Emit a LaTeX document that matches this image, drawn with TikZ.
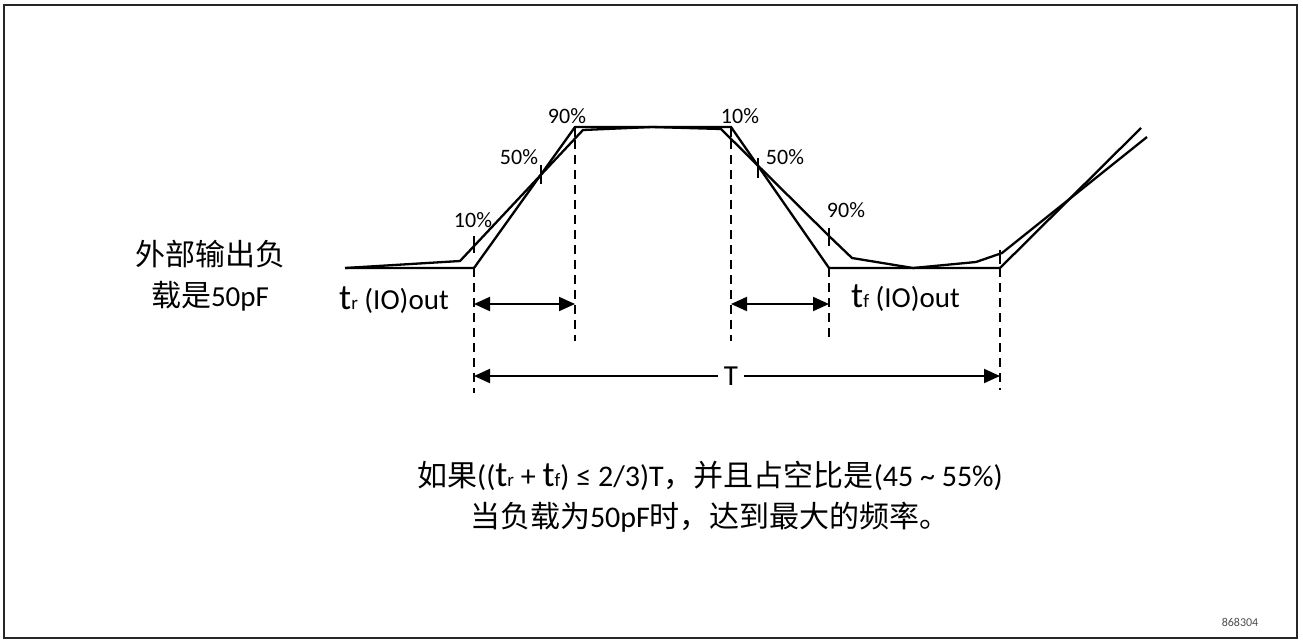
\documentclass[tikz,border=0pt]{standalone}
\usepackage{fontspec}
\setmainfont{Carlito}
\newfontfamily\cjk{Noto Sans CJK SC}
\usetikzlibrary{arrows.meta}
\newcommand{\bigt}[1]{{\fontsize{36}{36}\selectfont t}{\fontsize{19}{20}\selectfont #1}}
\begin{document}
\begin{tikzpicture}[x=1pt,y=-1pt,
  wave/.style={line width=2.3pt, line join=miter},
  guide/.style={line width=2pt, dash pattern=on 9pt off 6pt},
  dimarrow/.style={line width=2pt, {Triangle[length=16pt,width=14pt]}-{Triangle[length=16pt,width=14pt]}},
  tickmark/.style={line width=2pt},
  pct/.style={font=\fontsize{22}{24}\selectfont, inner sep=0pt},
  lbl/.style={font=\fontsize{29}{32}\selectfont, inner sep=0pt},
  cjklbl/.style={font=\cjk\fontsize{30}{41}\selectfont, inner sep=0pt, align=center}]
\useasboundingbox (0,0) rectangle (1303,641);
\draw[line width=1.5pt, black!85] (4,5) rectangle (1297,638);
% ideal waveform
\coordinate (a0) at (345,268);
\coordinate (a1) at (474,268);
\coordinate (a2) at (575,127);
\coordinate (a3) at (731,127);
\coordinate (a4) at (829,268);
\coordinate (a5) at (1000,268);
\coordinate (a6) at (1141,128);
\draw[wave] (a0) -- (a1) -- (a2) -- (a3) -- (a4) -- (a5) -- (a6);
% real waveform
\coordinate (b0) at (345,268);
\coordinate (b1) at (460,261);
\coordinate (b2) at (583,130);
\coordinate (b3) at (652,127);
\coordinate (b4) at (721,129);
\coordinate (b5) at (829,236);
\coordinate (b6) at (852,258);
\coordinate (b7) at (913,268);
\coordinate (b8) at (976,262);
\coordinate (b9) at (1002,253);
\coordinate (b10) at (1147,137);
\draw[wave] (b0) -- (b1) -- (b2) -- (b3) -- (b4) -- (b5) -- (b6) -- (b7) -- (b8) -- (b9) -- (b10);
% ticks
\coordinate (k1a) at (474,236); \coordinate (k1b) at (474,253);
\coordinate (k2a) at (541,165); \coordinate (k2b) at (541,184);
\coordinate (k3a) at (758,158); \coordinate (k3b) at (758,178);
\coordinate (k4a) at (829,228); \coordinate (k4b) at (829,246);
\coordinate (k5a) at (1000,250); \coordinate (k5b) at (1000,264);
\coordinate (k6a) at (575,127); \coordinate (k6b) at (575,137);
\coordinate (k7a) at (731,127); \coordinate (k7b) at (731,137);
\foreach \k in {1,...,7} \draw[tickmark] (k\k a) -- (k\k b);
% dashed guides
\coordinate (g1a) at (474,268); \coordinate (g1b) at (474,393);
\coordinate (g2a) at (575,140); \coordinate (g2b) at (575,341);
\coordinate (g3a) at (731,140); \coordinate (g3b) at (731,341);
\coordinate (g4a) at (829,268); \coordinate (g4b) at (829,341);
\coordinate (g5a) at (1000,268); \coordinate (g5b) at (1000,390);
\foreach \g in {1,...,5} \draw[guide] (g\g a) -- (g\g b);
% dimension arrows
\coordinate (tr1) at (474,304); \coordinate (tr2) at (575,304);
\coordinate (tf1) at (731,304); \coordinate (tf2) at (829,304);
\coordinate (T1) at (474,376); \coordinate (T2) at (1000,376);
\draw[dimarrow] (tr1) -- (tr2);
\draw[dimarrow] (tf1) -- (tf2);
\draw[dimarrow] (T1) -- (T2);
\node[lbl, fill=white, inner xsep=6pt, inner ysep=2pt] (Tlbl) at (731,376) {T};
% percentage labels
\node[pct] (p1) at (567,116) {90\%};
\node[pct] (p2) at (519,157) {50\%};
\node[pct] (p3) at (473,220) {10\%};
\node[pct] (p4) at (740,116) {10\%};
\node[pct] (p5) at (785,157) {50\%};
\node[pct] (p6) at (846,210) {90\%};
% time labels
\node[lbl, anchor=west] (trlbl) at (339,300) {\bigt{r} (IO)out};
\node[lbl, anchor=west] (tflbl) at (851,298) {\bigt{f} (IO)out};
% left label
\node[cjklbl] (load) at (210,276) {外部输出负\\载是{\fontsize{29}{30}\selectfont\rmfamily 50pF}};
% bottom text
\node[cjklbl] (cond) at (710,497) {如果{\rmfamily ((\bigt{r} + \bigt{f}) ≤ 2/3)T}，并且占空比是{\rmfamily (45 \textasciitilde{} 55\%)}\\当负载为{\rmfamily 50pF}时，达到最大的频率。};
\node[font=\fontsize{12}{13}\selectfont, text=black!70, inner sep=0pt] (fig) at (1240,622) {868304};
\end{tikzpicture}
\end{document}
